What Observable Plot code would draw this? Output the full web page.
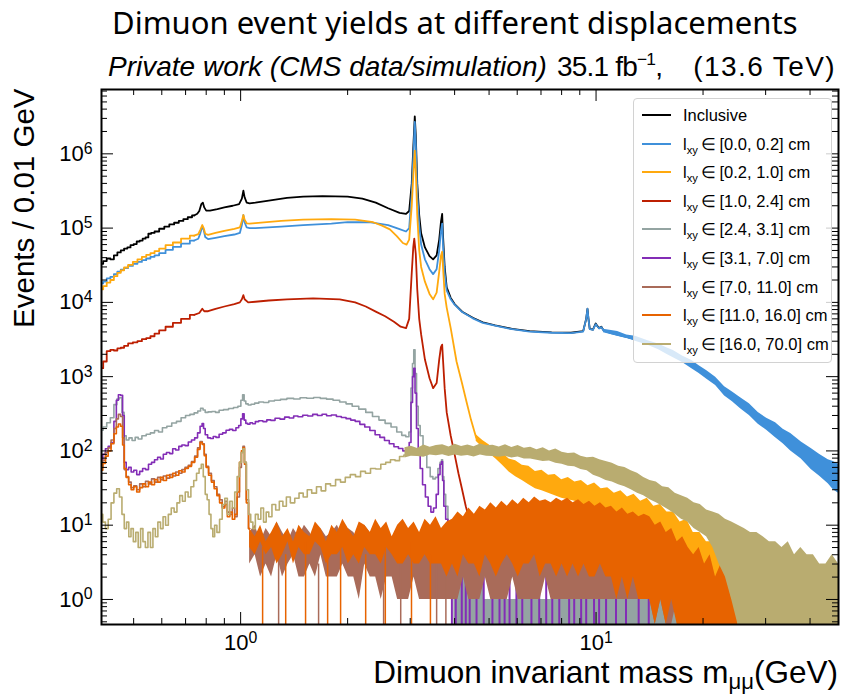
<!DOCTYPE html>
<html>
<head>
<meta charset="utf-8">
<script src="https://cdn.jsdelivr.net/npm/d3@7"></script>
<script src="https://cdn.jsdelivr.net/npm/@observablehq/plot@0.6"></script>
<style>
  body { margin: 0; background: #fff; }
  #wrap { position: relative; width: 848px; height: 694px; overflow: hidden; font-family: "Liberation Sans", Arial, sans-serif; color: #000; }
  #wrap svg { position: absolute; left: 0; top: 0; }
  .title { position: absolute; left: 112px; top: 0px; font-family: "Noto Sans", sans-serif; font-size: 31px; line-height: 44px; white-space: nowrap; }
  .sub { position: absolute; top: 52px; font-size: 28px; line-height: 30px; white-space: nowrap; }
  .sub sup { font-size: 0.62em; vertical-align: 0.62em; line-height: 0; }
  .xlabel { position: absolute; right: 10px; top: 655px; font-size: 31.5px; line-height: 34px; white-space: nowrap; }
  .xlabel sub { font-size: 0.7em; vertical-align: -0.25em; line-height: 0; }
  .legend { position: absolute; left: 633px; top: 98px; width: 199px; height: 265px; box-sizing: border-box; border: 1px solid #d2d2d2; border-radius: 4px; background: rgba(255,255,255,0.8); }
  .legend .row { position: absolute; left: 0; height: 20px; width: 100%; }
  .legend .swatch { position: absolute; left: 8px; top: 9px; width: 29px; height: 2px; }
  .legend .txt { position: absolute; left: 49px; top: 0; font-size: 16.5px; line-height: 20px; white-space: nowrap; }
  .legend .txt sub { font-size: 0.68em; vertical-align: -0.35em; line-height: 0; }
</style>
</head>
<body>
<div id="wrap"></div>
<script>
// ---- axis ranges and ticks -------------------------------------------------
const xDomain = [0.406, 48.1];          // dimuon mass, GeV
const yDomain = [0.46, 7.35e6];         // events per 0.01 GeV
const xMajor = [1, 10];
const xMinor = [0.5, 0.6, 0.7, 0.8, 0.9, 2, 3, 4, 5, 6, 7, 8, 9, 20, 30, 40];
const yMajor = [1, 10, 100, 1e3, 1e4, 1e5, 1e6];
const yMinor = [-1, 0, 1, 2, 3, 4, 5, 6]
  .flatMap(k => [2, 3, 4, 5, 6, 7, 8, 9].map(d => d * 10 ** k))
  .filter(v => v > yDomain[0] && v < yDomain[1]);
const EMPTY = 0.01; // empty bins fall to the lower frame edge

// ---- series labels and colours ---------------------------------------------
const seriesNames = ["Inclusive", "[0.0, 0.2]", "[0.2, 1.0]", "[1.0, 2.4]", "[2.4, 3.1]",
                     "[3.1, 7.0]", "[7.0, 11.0]", "[11.0, 16.0]", "[16.0, 70.0]"];
const palette = ["#000000", "#3f90da", "#ffa90e", "#bd1f01", "#94a4a2",
                 "#832db6", "#a96b59", "#e76300", "#b9ac70"];

// ---- histogram contents: [mass (GeV), events] --------------------------------
const inclusive = [[0.406,3.3e4],[0.415,3.6e4],[0.425,3.9e4],[0.435,3.8e4],[0.445,4.3e4],[0.455,4.7e4],[0.465,5.0e4],[0.475,5.3e4],[0.485,5.5e4],[0.495,5.9e4],[0.505,6.1e4],[0.515,6.6e4],[0.525,6.8e4],[0.535,7.2e4],[0.545,7.5e4],[0.555,8.4e4],[0.565,8.6e4],[0.58,9.0e4],[0.60,9.8e4],[0.62,1.05e5],[0.64,1.12e5],[0.66,1.18e5],[0.68,1.25e5],[0.70,1.32e5],[0.72,1.4e5],[0.74,1.48e5],[0.755,1.56e5],[0.765,1.7e5],[0.775,2.1e5],[0.783,2.2e5],[0.79,1.9e5],[0.80,1.72e5],[0.82,1.72e5],[0.86,1.8e5],[0.90,1.9e5],[0.95,2.0e5],[0.99,2.1e5],[1.008,2.5e5],[1.018,3.2e5],[1.026,2.6e5],[1.04,2.2e5],[1.06,2.15e5],[1.1,2.2e5],[1.2,2.35e5],[1.35,2.55e5],[1.5,2.65e5],[1.7,2.7e5],[2.0,2.65e5],[2.2,2.5e5],[2.4,2.2e5],[2.6,1.85e5],[2.8,1.6e5],[2.92,1.55e5],[2.98,1.7e5],[3.03,4e5],[3.06,1.2e6],[3.09,3.2e6],[3.11,1.8e6],[3.14,4e5],[3.18,1.5e5],[3.22,8.5e4],[3.3,5.5e4],[3.4,4.2e4],[3.48,3.8e4],[3.56,4.3e4],[3.62,7e4],[3.66,1.2e5],[3.69,1.55e5],[3.71,8e4],[3.75,3e4],[3.8,1.6e4],[3.9,1.15e4],[4.0,9.5e3],[4.2,7.5e3],[4.5,6.2e3],[4.8,5.4e3],[5.2,4.9e3],[5.8,4.4e3],[6.5,4.1e3],[7.5,3.95e3],[8.5,3.9e3],[9.2,4.1e3],[9.38,6e3],[9.46,8.2e3],[9.52,6e3],[9.6,4.4e3],[9.8,4.3e3],[9.98,5.2e3],[10.05,4.9e3],[10.2,4.5e3],[10.35,4.7e3],[10.5,4.2e3],[11,3.9e3],[12,3.5e3],[12.9,3.2e3],[14,2.85e3],[15,2.5e3],[16.5,2.0e3],[18.6,1.45e3],[20.5,1.05e3],[23,630],[25.5,440],[28.6,275],[32,190],[35.3,134],[40.3,79],[45,53],[48.1,44]];

const lxy00_02 = [[0.406,1.8e4],[0.415,1.9e4],[0.425,2.1e4],[0.435,2.2e4],[0.445,2.4e4],[0.455,2.6e4],[0.465,2.75e4],[0.475,2.9e4],[0.49,3.1e4],[0.505,3.3e4],[0.52,3.5e4],[0.535,3.7e4],[0.55,3.9e4],[0.565,4.1e4],[0.58,4.3e4],[0.60,4.6e4],[0.63,5.1e4],[0.66,5.6e4],[0.70,6.2e4],[0.74,6.8e4],[0.76,7.2e4],[0.77,8.5e4],[0.78,1.05e5],[0.787,9.5e4],[0.795,7.6e4],[0.81,7.1e4],[0.85,7.4e4],[0.90,7.8e4],[0.96,8.2e4],[0.995,8.6e4],[1.008,1.1e5],[1.018,1.5e5],[1.026,1.2e5],[1.04,1.02e5],[1.06,1.0e5],[1.1,1.0e5],[1.3,1.05e5],[1.5,1.1e5],[1.8,1.15e5],[2.0,1.2e5],[2.3,1.2e5],[2.6,1.1e5],[2.8,9.7e4],[2.92,9.0e4],[2.98,1.0e5],[3.03,3e5],[3.06,9e5],[3.09,2.7e6],[3.11,1.4e6],[3.14,3e5],[3.18,1.1e5],[3.22,6e4],[3.3,3.8e4],[3.4,2.8e4],[3.48,2.4e4],[3.56,2.8e4],[3.62,5e4],[3.66,9e4],[3.69,1.15e5],[3.71,6e4],[3.75,2.5e4],[3.8,1.45e4],[3.9,1.1e4],[4.0,9.3e3],[4.2,7.4e3],[4.5,6.1e3],[4.8,5.3e3],[5.2,4.85e3],[5.8,4.35e3],[6.5,4.05e3],[7.5,3.9e3],[8.5,3.85e3],[9.2,4.05e3],[9.38,6e3],[9.46,8.2e3],[9.52,6e3],[9.6,4.35e3],[9.8,4.25e3],[9.98,5.1e3],[10.05,4.85e3],[10.2,4.45e3],[10.35,4.65e3],[10.5,4.15e3],[11,3.85e3],[12,3.45e3],[12.9,3.2e3],[14,2.85e3],[15,2.5e3],[16.5,2.0e3],[18.6,1.45e3],[20.5,1.05e3],[23,630],[25.5,440],[28.6,275],[32,190],[35.3,134],[40.3,79],[45,53],[48.1,44]];

const lxy02_10 = [[0.406,1.5e4],[0.415,1.65e4],[0.425,1.85e4],[0.435,2.0e4],[0.445,2.25e4],[0.455,2.5e4],[0.465,2.7e4],[0.475,2.95e4],[0.49,3.2e4],[0.505,3.5e4],[0.52,3.8e4],[0.535,4.1e4],[0.55,4.35e4],[0.565,4.6e4],[0.58,4.9e4],[0.60,5.3e4],[0.63,5.9e4],[0.66,6.4e4],[0.70,7.2e4],[0.74,7.9e4],[0.76,8.3e4],[0.77,9.5e4],[0.78,1.1e5],[0.787,1.0e5],[0.795,8.4e4],[0.81,8.1e4],[0.85,8.6e4],[0.90,9.2e4],[0.96,9.8e4],[0.995,1.02e5],[1.008,1.25e5],[1.018,1.5e5],[1.026,1.3e5],[1.04,1.16e5],[1.06,1.15e5],[1.1,1.17e5],[1.3,1.25e5],[1.5,1.3e5],[1.8,1.32e5],[2.1,1.3e5],[2.36,1.2e5],[2.5,1.08e5],[2.63,9.6e4],[2.75,7.8e4],[2.86,6.3e4],[2.93,6.0e4],[2.98,7e4],[3.03,2e5],[3.06,5e5],[3.09,1.1e6],[3.11,6e5],[3.14,1.5e5],[3.18,5e4],[3.22,3.0e4],[3.3,1.9e4],[3.4,1.3e4],[3.48,1.1e4],[3.56,1.35e4],[3.62,2.6e4],[3.66,4.2e4],[3.69,4.8e4],[3.71,3e4],[3.75,1.3e4],[3.8,8.5e3],[3.9,4.5e3],[4.05,1.6e3],[4.2,800],[4.32,460],[4.45,260],[4.6,150]];

const lxy10_24 = [[0.406,1.3e3],[0.415,1.6e3],[0.425,2.2e3],[0.435,2.3e3],[0.445,2.25e3],[0.455,2.4e3],[0.465,2.45e3],[0.475,2.6e3],[0.49,2.8e3],[0.505,2.9e3],[0.52,3.0e3],[0.535,3.2e3],[0.55,3.3e3],[0.565,3.5e3],[0.58,3.8e3],[0.60,4.2e3],[0.63,4.7e3],[0.66,5.3e3],[0.70,6.0e3],[0.74,6.8e3],[0.765,7.2e3],[0.78,8.2e3],[0.79,7.6e3],[0.81,7.6e3],[0.85,8.2e3],[0.90,8.8e3],[0.96,9.5e3],[0.995,1.0e4],[1.008,1.1e4],[1.018,1.25e4],[1.026,1.1e4],[1.05,1.0e4],[1.1,1.02e4],[1.2,1.06e4],[1.35,1.1e4],[1.6,1.13e4],[1.9,1.1e4],[2.1,1.0e4],[2.25,8.8e3],[2.4,7.5e3],[2.55,6.5e3],[2.7,5.5e3],[2.82,4.7e3],[2.92,4.5e3],[2.98,6e3],[3.03,2.5e4],[3.06,5.5e4],[3.08,7.2e4],[3.11,4.5e4],[3.14,1.5e4],[3.18,6e3],[3.22,3.7e3],[3.3,1.7e3],[3.4,950],[3.48,700],[3.56,820],[3.62,1.7e3],[3.66,2.5e3],[3.69,2.7e3],[3.71,1.7e3],[3.75,700],[3.8,330],[3.9,160],[4.0,90],[4.1,50],[4.2,30],[4.3,18],[4.4,12],[4.5,7],[4.6,4],[4.7,2]];

const lxy24_31 = [[0.406,190],[0.415,210],[0.425,240],[0.435,280],[0.445,420],[0.452,500],[0.46,520],[0.467,330],[0.473,160],[0.48,140],[0.49,150],[0.50,138],[0.51,152],[0.52,145],[0.535,160],[0.55,168],[0.565,175],[0.58,188],[0.595,180],[0.61,205],[0.63,215],[0.65,238],[0.67,250],[0.69,280],[0.71,300],[0.73,310],[0.75,325],[0.765,345],[0.778,375],[0.79,355],[0.80,330],[0.82,335],[0.84,340],[0.86,330],[0.88,352],[0.91,360],[0.94,372],[0.97,385],[0.995,400],[1.008,480],[1.018,570],[1.028,470],[1.04,430],[1.06,415],[1.08,425],[1.11,440],[1.14,455],[1.18,448],[1.22,470],[1.27,480],[1.32,495],[1.38,510],[1.44,500],[1.5,520],[1.57,512],[1.64,525],[1.71,510],[1.78,498],[1.86,480],[1.94,455],[2.02,430],[2.1,400],[2.2,365],[2.3,330],[2.4,290],[2.5,260],[2.6,235],[2.7,210],[2.8,180],[2.88,162],[2.95,155],[3.0,180],[3.03,700],[3.06,1500],[3.08,2300],[3.11,1100],[3.14,400],[3.18,220],[3.22,160],[3.3,90],[3.38,60],[3.45,45],[3.5,42],[3.56,44],[3.62,58],[3.66,70],[3.69,76],[3.71,45],[3.75,26],[3.8,18],[3.86,10],[3.92,6],[3.98,4]];

const lxy31_70 = [[0.406,76],[0.413,90],[0.42,107],[0.428,115],[0.436,130],[0.444,250],[0.45,480],[0.456,570],[0.463,560],[0.468,300],[0.473,70],[0.48,56],[0.488,60],[0.496,52],[0.505,55],[0.515,48],[0.525,53],[0.535,58],[0.545,56],[0.556,66],[0.567,70],[0.578,76],[0.59,82],[0.60,78],[0.612,90],[0.625,95],[0.638,92],[0.65,107],[0.663,103],[0.677,115],[0.69,120],[0.705,118],[0.72,132],[0.735,140],[0.75,150],[0.763,175],[0.775,215],[0.783,234],[0.79,200],[0.80,165],[0.815,150],[0.83,147],[0.845,156],[0.86,152],[0.88,168],[0.90,175],[0.92,190],[0.94,195],[0.96,188],[0.98,205],[0.995,220],[1.008,270],[1.018,316],[1.028,260],[1.04,235],[1.055,229],[1.07,240],[1.09,232],[1.11,248],[1.14,255],[1.17,248],[1.2,262],[1.23,258],[1.27,275],[1.31,268],[1.35,285],[1.39,278],[1.43,295],[1.47,288],[1.52,302],[1.57,295],[1.62,310],[1.67,300],[1.72,312],[1.77,298],[1.83,305],[1.89,290],[1.95,282],[2.01,272],[2.07,260],[2.13,250],[2.2,228],[2.27,210],[2.35,188],[2.43,165],[2.5,152],[2.58,138],[2.66,125],[2.74,114],[2.82,108],[2.9,100],[2.96,98],[3.0,130],[3.03,450],[3.06,1000],[3.08,1300],[3.11,600],[3.14,200],[3.18,90],[3.22,58],[3.28,35],[3.34,24],[3.4,18],[3.46,15],[3.52,17],[3.58,26],[3.62,48],[3.66,66],[3.69,72],[3.71,40],[3.75,18],[3.8,12],[3.86,7],[3.92,4],[3.98,3]];

const lxy70_110 = [[0.406,60],[0.413,75],[0.42,95],[0.428,110],[0.436,140],[0.444,200],[0.45,270],[0.456,310],[0.463,290],[0.468,150],[0.473,56],[0.48,45],[0.488,38],[0.496,32],[0.505,34],[0.515,30],[0.525,36],[0.535,33],[0.545,39],[0.556,36],[0.567,42],[0.578,38],[0.59,44],[0.60,41],[0.612,46],[0.625,43],[0.638,48],[0.65,46],[0.663,52],[0.677,50],[0.69,56],[0.705,60],[0.72,64],[0.735,72],[0.75,85],[0.763,110],[0.775,134],[0.785,125],[0.795,90],[0.805,62],[0.82,50],[0.835,40],[0.85,33],[0.865,26],[0.88,22],[0.895,18],[0.91,21],[0.925,15],[0.94,14],[0.955,17],[0.97,13],[0.985,24],[1.0,60],[1.01,95],[1.02,115],[1.03,70],[1.045,22],[1.06,9]];

const lxy110_160 = [[0.406,55],[0.413,68],[0.42,85],[0.428,100],[0.436,125],[0.444,170],[0.45,210],[0.456,230],[0.463,215],[0.468,120],[0.473,58],[0.48,44],[0.488,35],[0.496,30],[0.505,33],[0.515,28],[0.525,32],[0.535,36],[0.545,33],[0.556,38],[0.567,35],[0.578,41],[0.59,38],[0.60,44],[0.612,40],[0.625,47],[0.638,44],[0.65,50],[0.663,47],[0.677,54],[0.69,52],[0.705,58],[0.72,62],[0.735,70],[0.75,82],[0.763,105],[0.775,130],[0.785,122],[0.795,86],[0.805,60],[0.82,47],[0.835,38],[0.85,31],[0.865,25],[0.88,20],[0.895,17],[0.91,19],[0.925,13],[0.94,15],[0.955,12],[0.97,14],[0.985,28],[1.0,70],[1.01,100],[1.02,110],[1.03,66],[1.045,20],[1.06,9]];

const lxy160_700 = [[0.406,14],[0.413,11],[0.42,9],[0.428,12],[0.436,20],[0.444,27],[0.452,31],[0.46,24],[0.467,14],[0.474,9],[0.481,11],[0.488,7],[0.495,9],[0.503,6],[0.511,8],[0.519,5],[0.527,9],[0.535,6],[0.544,5],[0.553,8],[0.562,5],[0.571,9],[0.58,7],[0.59,11],[0.60,9],[0.61,13],[0.62,10],[0.632,14],[0.644,17],[0.656,15],[0.668,20],[0.68,25],[0.692,21],[0.705,28],[0.718,24],[0.731,33],[0.745,40],[0.758,50],[0.77,58],[0.78,66],[0.79,45],[0.80,26],[0.81,22],[0.82,14],[0.83,9],[0.84,7],[0.85,10],[0.865,8],[0.88,12],[0.895,19],[0.91,23],[0.925,14],[0.94,21],[0.955,17],[0.97,28],[0.985,45],[1.0,70],[1.01,95],[1.02,107],[1.03,70],[1.045,30],[1.06,14],[1.075,11],[1.09,9],[1.11,14],[1.13,12],[1.15,17],[1.17,11],[1.19,15],[1.21,13],[1.24,19],[1.27,16],[1.30,21],[1.33,18],[1.36,24],[1.40,20],[1.44,23],[1.48,27],[1.52,24],[1.56,30],[1.61,27],[1.66,33],[1.71,29],[1.76,36],[1.82,34],[1.88,41],[1.94,38],[2.0,44],[2.07,48],[2.14,45],[2.21,53],[2.28,50],[2.36,58],[2.44,57],[2.52,66],[2.6,70],[2.68,76],[2.76,74],[2.84,84],[2.92,88],[3.0,92]];

// ---- bin-to-bin spread where the statistics are low ---------------------------
// explicit [mass, low, high]
const tailInclusiveLow = [[10.5,3.9e3,4.35e3],[11.5,3.5e3,4.05e3],[12.2,3.3e3,3.65e3],[12.9,3.0e3,3.5e3],[14,2.65e3,3.05e3],[15,2.3e3,2.75e3],[15.8,2.0e3,2.45e3],[16.5,1.8e3,2.25e3],[17.5,1.55e3,1.9e3],[18.6,1.28e3,1.65e3],[19.5,1.1e3,1.4e3],[20.5,920,1.2e3],[21.7,760,980],[23,550,730],[24.2,460,620],[25.5,370,520],[27,300,430],[28.6,228,330],[30.2,190,275],[32,150,240],[33.6,125,195],[35.3,100,172],[37.8,78,132],[40.3,56,108],[42.5,46,90],[45,36,76],[46.5,30,72],[48.1,27,66]];

// on a log-spaced mass grid: [first mass, last mass], low values, high values
const spreadOrange = { range: [4.6, 30],
  lo: [135,110,92,78,64, 52,45,40,35,31, 29,27,25,23,22, 21,19,18,17,16, 15,14,13,12,11, 10,9,8,7,6, 5,4,3,3,2, 2,1,1,1,0, 0,1,0,0,0],
  hi: [165,138,120,100,94, 78,74,64,62,53, 55,47,48,41,44, 38,40,34,37,31, 32,27,29,24,26, 21,23,18,19,15, 15,11,12,8,8, 6,6,4,5,3, 3,2,3,2,2] };

const spreadGray = { range: [3.98, 19.5],
  lo: [0,0,0,0,0,0,0,0,0,0,0,0,0,0,0,0,0,0,0,0,0,0,0,0,0,0,0,0,0,0],
  hi: [4,3,2,2,1,2,1,1,2,1,1,1,1,2,1,1,1,1,1,1,1,1,1,1,1,1,1,1,1,1] };

const spreadBrown = { range: [1.06, 25],
  lo: [3,4,2,3,2,4,2,3,4,2,2,3,2,4,2,2, 2,3,2,2,1,3,2,2,1,2,2,1,1,1,2,1,1,1,1,1,1,
       1,1,2,1,1,1,2,1,1,1,1,2,1,1,1,1,1,2,1,1, 1,1,1,1,1,1,1,1,1,1,1,1,1,1,1,1,
       1,0,1,0,0,1,0,0, 0,0,0,0,0,0,0,0,0],
  hi: [8,10,6,9,7,11,8,6,9,7,10,8,6,9,7,8, 10,7,9,8,6,10,8,9,7,8,6,9,7,8,6,7,8,6,9,7,6,
       7,5,8,6,7,5,6,8,5,7,6,5,7,6,5,7,6,5,6,7, 5,6,5,7,5,6,4,6,5,4,6,5,4,5,4,5,
       4,3,4,3,3,2,3,2, 2,1,2,1,1,1,1,1,1] };

const spreadOrange2 = { range: [1.06, 25],
  lo: [5,4,6,4,5,3,4,6,3,5,4,4,6,5,3,4, 4,5,3,4,3,5,4,4,3,5,4,3,3,4,3,3,4,3,3,3,2,
       3,2,4,3,3,2,4,3,2,3,4,3,2,3,3,4,2,3,3,2, 3,2,3,2,3,2,2,3,2,2,1,2,1,2,1,1,
       1,0,1,0,1,0,0,0, 0,0,0,0,0,0,0,0,0],
  hi: [9,7,10,6,8,11,7,9,6,10,8,7,11,9,6,10, 8,12,9,7,11,10,8,12,9,11,7,10,12,9,11,8,12,10,13,9,11,
       12,15,13,17,14,18,16,20,17,21,18,22,19,23,20,24,21,22,20,23, 21,23,20,22,19,21,18,20,17,18,15,17,14,15,13,14,
       13,10,11,8,9,6,7,5, 4,5,3,4,2,3,2,1,1] };

const spreadTan = { range: [2.9, 48.1],
  lo: [80,85,84,82,88, 86,89,84,88,85, 87,83,88,85,84, 82,85,80,83,78, 78,75,72,73,68, 66,62,61,56,54, 47,44,40,38,35, 33,30,27,25,22, 20,18,16,14,12, 11,9,8,7,5, 3,2,1,0,0, 0,0,0,0,0, 0,0,0,0,0, 0,0,0,0,0],
  hi: [110,116,108,120,112, 118,121,113,123,115, 120,114,124,117,119, 113,121,111,118,109, 112,104,110,100,106, 96,92,94,85,81, 82,76,72,68,62, 60,54,50,44,40, 38,33,32,27,25, 23,20,19,16,15, 14,12,11,10,9, 8,8,7,6,6, 5,6,4,5,4, 4,3,3,4,3] };

// isolated bins that reach the lower edge or sit alone: [mass, events]
const spikesRed = [[4.8,2],[4.95,1],[5.2,1],[5.5,1],[5.9,1],[6.4,1]];
const spikesPurple = [[3.93,3],[4.03,2],[4.19,2],[4.30,3],[4.41,2],[4.61,1],[4.83,2],[5.11,2],[5.35,3],[5.53,1],[5.71,2],[5.97,2],[6.20,1],[6.58,2],[6.92,2],[7.24,3],[7.53,1],[7.88,2],[8.40,2],[8.68,1],[9.08,2],[9.38,2],[9.87,1],[10.2,2],[10.67,1],[11.38,2],[12.14,1],[13.18,1],[14.07,1]];
const spikesBrown = [[1.279,4],[1.657,3],[2.525,5],[2.821,4],[3.56,3],[3.78,4]];
const spikesOrange2 = [[1.153,5],[1.339,4],[1.523,6],[1.757,4],[1.911,5],[2.248,4],[2.553,5],[3.025,6],[3.42,4]];

// ---- assemble -------------------------------------------------------------------
const histos = [inclusive, lxy00_02, lxy02_10, lxy10_24, lxy24_31, lxy31_70, lxy70_110, lxy110_160, lxy160_700];
const gridded = {2: spreadOrange, 4: spreadGray, 6: spreadBrown, 7: spreadOrange2, 8: spreadTan};
const spikes = {3: spikesRed, 5: spikesPurple, 6: spikesBrown, 7: spikesOrange2};
const STEP_BELOW = 0.75; // high-statistics curves show their bin steps only at low mass

const logGrid = (m0, m1, n) => d3.range(n).map(i => m0 * Math.pow(m1 / m0, i / (n - 1)));
const asRows = pts => pts.map(([m, v]) => ({m, v: v > 0 ? v : EMPTY}));
const spreadRows = s => logGrid(s.range[0], s.range[1], s.lo.length)
  .map((m, i) => ({m, lo: s.lo[i] > 0 ? s.lo[i] : EMPTY, hi: s.hi[i] > 0 ? s.hi[i] : EMPTY}));

const marks = [];
histos.forEach((pts, k) => {
  const color = palette[k];
  const rows = asRows(pts);
  if (gridded[k]) {
    marks.push(Plot.areaY(spreadRows(gridded[k]), {x: "m", y1: "lo", y2: "hi", fill: color, curve: k === 4 ? "step" : "linear", clip: true}));
  }
  if (k <= 3) {
    marks.push(Plot.line(rows.filter(d => d.m <= STEP_BELOW), {x: "m", y: "v", stroke: color, strokeWidth: 1.8, curve: "step", clip: true}));
    marks.push(Plot.line(rows.filter(d => d.m >= 0.74), {x: "m", y: "v", stroke: color, strokeWidth: 1.8, curve: "linear", clip: true}));
  } else {
    marks.push(Plot.line(rows, {x: "m", y: "v", stroke: color, strokeWidth: 1.6, curve: "step", clip: true}));
  }
  if (k === 1) {
    marks.push(Plot.areaY(tailInclusiveLow.map(([m, lo, hi]) => ({m, lo, hi})), {x: "m", y1: "lo", y2: "hi", fill: color, curve: "linear", clip: true}));
  }
  if (spikes[k]) {
    marks.push(Plot.ruleX(asRows(spikes[k]), {x: "m", y1: EMPTY, y2: "v", stroke: color, strokeWidth: k >= 6 ? 1.5 : 2, clip: true}));
  }
});

const W = 848, H = 694;
const mt = 89, mb = 70, ml = 101, mr = 10;
const fh = H - mt - mb, fw = W - ml - mr;
const fmtPow = d => `10^${Math.round(Math.log10(d))}`;

// inward ticks on all four sides, axis labels, frame
marks.push(
  Plot.ruleX(xMajor, {x: d => d, insetTop: fh - 12, stroke: "#000"}),
  Plot.ruleX(xMajor, {x: d => d, insetBottom: fh - 12, stroke: "#000"}),
  Plot.ruleX(xMinor, {x: d => d, insetTop: fh - 6, stroke: "#000"}),
  Plot.ruleX(xMinor, {x: d => d, insetBottom: fh - 6, stroke: "#000"}),
  Plot.ruleY(yMajor, {y: d => d, insetRight: fw - 12, stroke: "#000"}),
  Plot.ruleY(yMajor, {y: d => d, insetLeft: fw - 12, stroke: "#000"}),
  Plot.ruleY(yMinor, {y: d => d, insetRight: fw - 6, stroke: "#000"}),
  Plot.ruleY(yMinor, {y: d => d, insetLeft: fw - 6, stroke: "#000"}),
  Plot.axisX({ticks: xMajor, tickSize: 0, tickPadding: 10, fontSize: 22, tickFormat: fmtPow, label: null}),
  Plot.axisY({ticks: yMajor, tickSize: 0, tickPadding: 9, fontSize: 22, tickFormat: fmtPow, label: null}),
  Plot.text(["Events / 0.01 GeV"], {frameAnchor: "top-left", text: d => d, rotate: -90, textAnchor: "end",
    lineAnchor: "middle", dx: -77, dy: -1, fontSize: 29.5, fill: "#000"}),
  Plot.frame({stroke: "#000", strokeWidth: 2})
);

const chart = Plot.plot({
  width: W, height: H,
  marginTop: mt, marginBottom: mb, marginLeft: ml, marginRight: mr,
  x: {type: "log", domain: xDomain},
  y: {type: "log", domain: yDomain, clamp: true},
  style: {fontFamily: "'Liberation Sans', Arial, sans-serif", background: "transparent", color: "#000"},
  marks
});

// powers of ten written with a raised exponent
const ns = "http://www.w3.org/2000/svg";
chart.querySelectorAll('g[aria-label$="tick label"] text').forEach(t => {
  const [base, exp] = t.textContent.split("^");
  if (exp === undefined) return;
  t.textContent = base;
  const ts = document.createElementNS(ns, "tspan");
  ts.setAttribute("dy", "-0.45em");
  ts.setAttribute("font-size", "0.72em");
  ts.textContent = exp;
  t.appendChild(ts);
});

const wrap = document.getElementById("wrap");
wrap.appendChild(chart);

const add = (cls, html) => { const d = document.createElement("div"); d.className = cls; d.innerHTML = html; wrap.appendChild(d); return d; };
add("title", "Dimuon event yields at different displacements");
add("sub", "<i>Private work (CMS data/simulation)</i>").style.left = "108px";
const lumi = add("sub", "35.1 fb<sup>−1</sup>,");
lumi.style.left = "557px"; lumi.style.letterSpacing = "-0.8px";
const energy = add("sub", "(13.6 TeV)");
energy.style.right = "12px"; energy.style.letterSpacing = "1.4px";
add("xlabel", "Dimuon invariant mass m<sub>μμ</sub>(GeV)");

const legend = add("legend", "");
seriesNames.forEach((name, i) => {
  const row = document.createElement("div");
  row.className = "row";
  row.style.top = (6 + 28.6 * i) + "px";
  const label = i === 0 ? name : `l<sub>xy</sub>\u2009∈\u2009${name} cm`;
  row.innerHTML = `<div class="swatch" style="background:${palette[i]}"></div><div class="txt">${label}</div>`;
  legend.appendChild(row);
});
</script>
</body>
</html>
